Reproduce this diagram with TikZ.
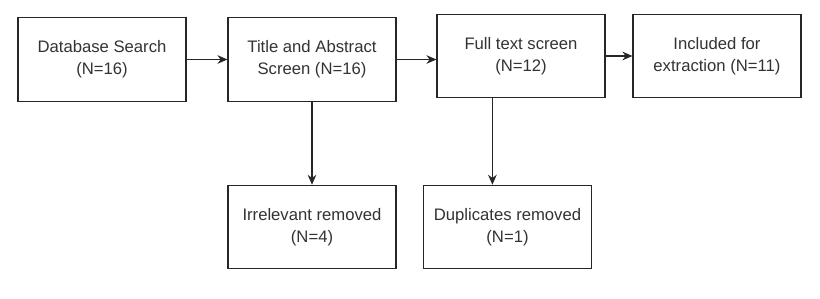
\documentclass[tikz,border=0pt]{standalone}
\usepackage{fontspec}
\setmainfont{Liberation Sans}
\usetikzlibrary{arrows.meta,calc}
\begin{document}
\begin{tikzpicture}[x=0.75pt,y=-0.75pt,
  box/.style={draw=black!85,line width=0.9pt,fill=white,minimum width=126pt,minimum height=62.5pt,
    align=center,inner sep=0pt,text=black!80,font=\fontsize{12.5pt}{16.5pt}\selectfont},
  conn/.style={draw=black!85,line width=0.9pt,-{Stealth[length=7.5pt,width=6.5pt]}}]
\useasboundingbox (0,0) rectangle (820,299);
\node[box] (b1) at (102,59.5) {Database Search\\(N=16)};
\node[box] (b2) at (312,59.5) {Title and Abstract\\Screen (N=16)};
\node[box] (b3) at (521,56) {Full text screen\\(N=12)};
\node[box] (b4) at (717,56) {Included for\\extraction (N=11)};
\node[box] (b5) at (312,227) {Irrelevant removed\\(N=4)};
\node[box] (b6) at (507.5,227) {Duplicates removed\\(N=1)};
\draw[conn] (b1) -- (b2);
\draw[conn] (b2.east) -- (b2.east -| b3.west);
\draw[conn] (b3) -- (b4);
\draw[conn] (b2) -- (b5);
\coordinate (d) at ($(b3.south west)+(56,0)$);
\draw[conn] (d) -- (d |- b6.north);
\end{tikzpicture}
\end{document}
